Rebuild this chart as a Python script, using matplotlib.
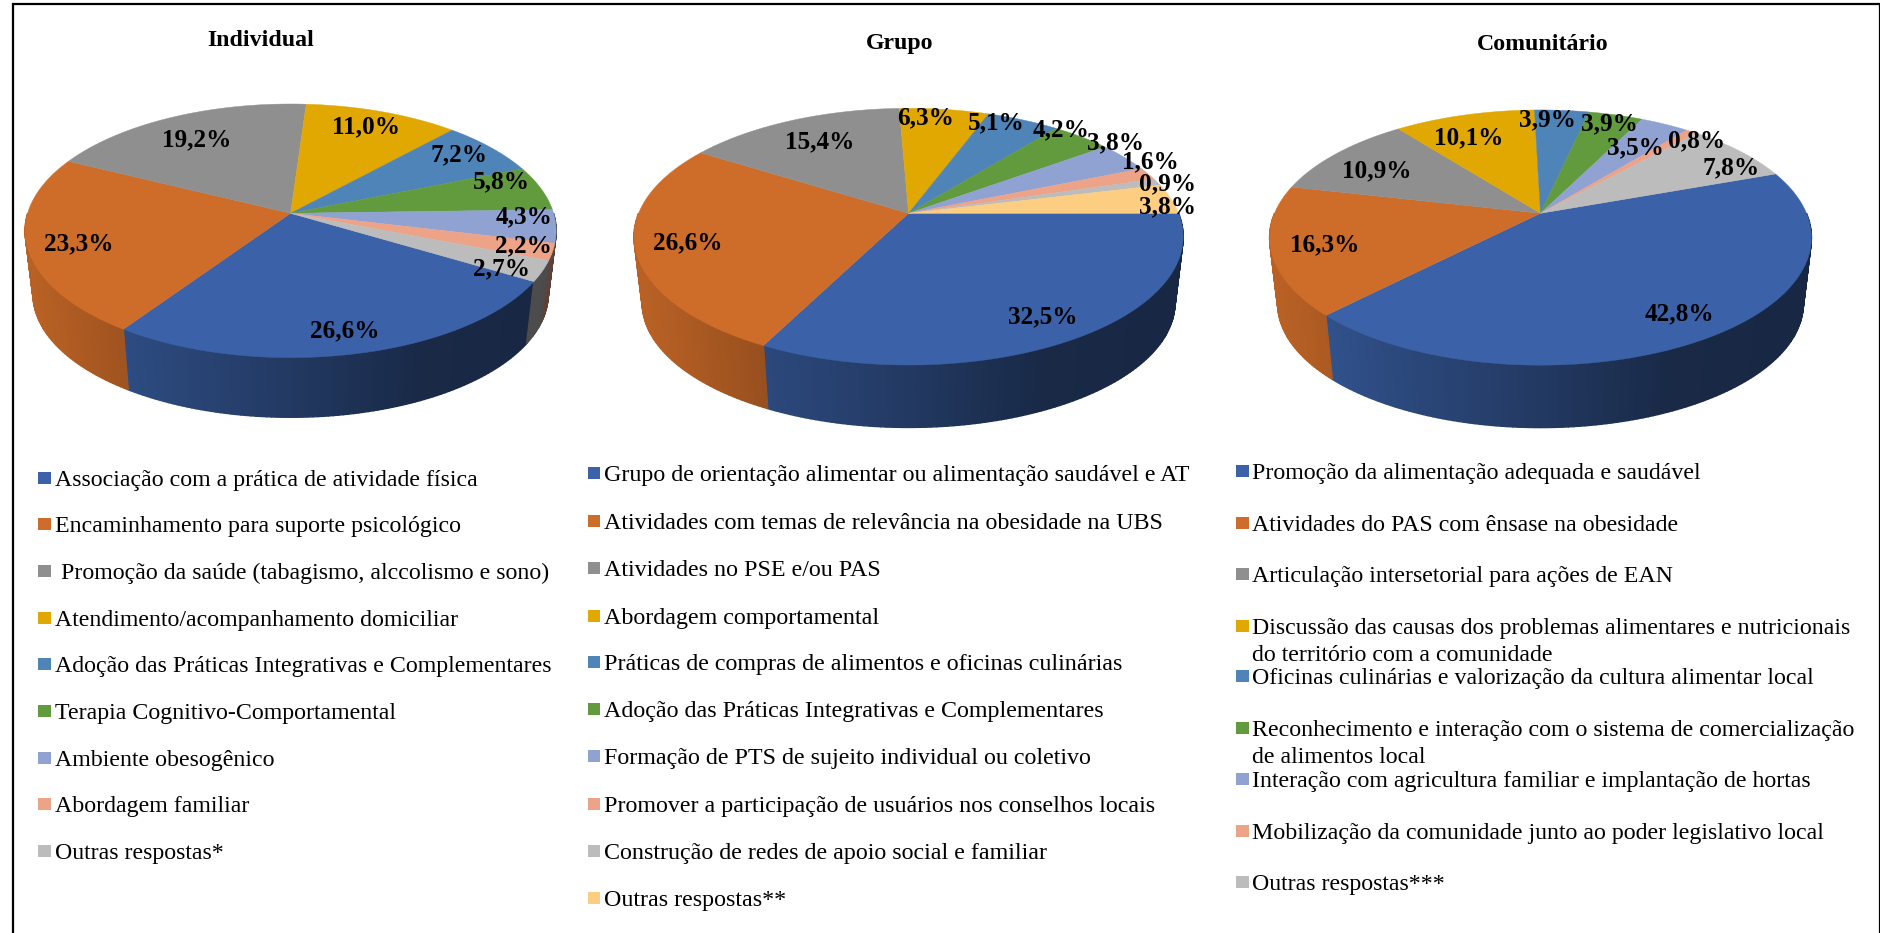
import numpy as np
import matplotlib
matplotlib.use("Agg")
import matplotlib.pyplot as plt
from matplotlib.patches import Polygon, Rectangle
from matplotlib.colors import to_rgb

plt.rcParams['font.family'] = ['Liberation Serif', 'DejaVu Serif']

# ---------- data ----------
titles = ["Individual", "Grupo", "Comunitário"]

individual_values = [26.6, 23.3, 19.2, 11.0, 7.2, 5.8, 4.3, 2.2, 2.7]
grupo_values = [32.5, 26.6, 15.4, 6.3, 5.1, 4.2, 3.8, 1.6, 0.9, 3.8]
comunitario_values = [42.8, 16.3, 10.9, 10.1, 3.9, 3.9, 3.5, 0.8, 7.8]

individual_labels = [
    "Associação com a prática de atividade física",
    "Encaminhamento para suporte psicológico",
    " Promoção da saúde (tabagismo, alccolismo e sono)",
    "Atendimento/acompanhamento domiciliar",
    "Adoção das Práticas Integrativas e Complementares",
    "Terapia Cognitivo-Comportamental",
    "Ambiente obesogênico",
    "Abordagem familiar",
    "Outras respostas*",
]
grupo_labels = [
    "Grupo de orientação alimentar ou alimentação saudável e AT",
    "Atividades com temas de relevância na obesidade na UBS",
    "Atividades no PSE e/ou PAS",
    "Abordagem comportamental",
    "Práticas de compras de alimentos e oficinas culinárias",
    "Adoção das Práticas Integrativas e Complementares",
    "Formação de PTS de sujeito individual ou coletivo",
    "Promover a participação de usuários nos conselhos locais",
    "Construção de redes de apoio social e familiar",
    "Outras respostas**",
]
comunitario_labels = [
    "Promoção da alimentação adequada e saudável",
    "Atividades do PAS com ênsase na obesidade",
    "Articulação intersetorial para ações de EAN",
    "Discussão das causas dos problemas alimentares e nutricionais\ndo território com a comunidade",
    "Oficinas culinárias e valorização da cultura alimentar local",
    "Reconhecimento e interação com o sistema de comercialização\nde alimentos local",
    "Interação com agricultura familiar e implantação de hortas",
    "Mobilização da comunidade junto ao poder legislativo local",
    "Outras respostas***",
]

# ---------- style / layout ----------
colors = ["#3B62A8", "#CE6C29", "#8F8F8F", "#E0A800", "#4F84B8",
          "#629A3E", "#8FA2D2", "#EDA387", "#BCBCBC", "#FDCD82"]

W, H = 1881, 933
fig = plt.figure(figsize=(W / 100, H / 100), dpi=100, facecolor="white")
ax = fig.add_axes([0, 0, 1, 1])
ax.set_xlim(0, W)
ax.set_ylim(H, 0)
ax.axis("off")

# frame: the picture is cropped at the bottom, so there are only three sides
ax.plot([12.5, 12.5, 1879.5, 1879.5], [H, 4, 4, H], color="black", lw=1.6,
        solid_joinstyle="miter", zorder=20, clip_on=False)

pies = [
    dict(values=individual_values, cx=290.6, cy=213.3, a=263, b=124.4, k=0.138,
         start=30.7, depth=64, title_xy=(261, 40),
         label_xy=[(345, 331), (79, 244), (197, 140), (366, 127), (459, 155),
                   (501, 182), (524, 217), (523, 246), (501, 269)]),
    dict(values=grupo_values, cx=908.6, cy=213.3, a=270, b=124.1, k=0.182,
         start=0.0, depth=67, title_xy=(900, 44),
         label_xy=[(1043, 317), (688, 243), (820, 142), (926, 118), (996, 123),
                   (1061, 130), (1115, 143), (1150, 162), (1168, 184), (1168, 207)]),
    dict(values=comunitario_values, cx=1540.5, cy=213.3, a=266, b=123.0, k=0.19,
         start=-19.9, depth=67, title_xy=(1543, 45),
         label_xy=[(1679, 314), (1325, 245), (1377, 171), (1469, 138), (1547, 120),
                   (1609, 124), (1635, 148), (1697, 141), (1731, 168)]),
]
SCALE_BOTTOM = 0.97


def rim(p, phi_deg):
    phi = np.radians(phi_deg)
    s = 1.0 / (1.0 - p["k"] * np.sin(phi))
    return p["cx"] + p["a"] * np.cos(phi) * s, p["cy"] + p["b"] * np.sin(phi) * s


def side_shade(nx):
    return np.interp(nx, [-1.0, -0.6, 0.0, 0.5, 1.0], [0.90, 0.76, 0.58, 0.42, 0.40])


for p in pies:
    vals = np.asarray(p["values"], dtype=float)
    spans = vals / vals.sum() * 360.0
    edges = p["start"] + np.concatenate([[0], np.cumsum(spans)])

    # side wall (drawn first; the top face covers what is hidden)
    for i in range(len(vals)):
        lo, hi = edges[i], edges[i + 1]
        for shift in (-360, 0, 360):
            a0 = max(lo + shift, 0)
            a1 = min(hi + shift, 180)
            if a1 <= a0:
                continue
            steps = np.arange(a0, a1, 1.0).tolist() + [a1]
            base = np.array(to_rgb(colors[i]))
            for t0, t1 in zip(steps[:-1], steps[1:]):
                x0, y0 = rim(p, t0)
                x1, y1 = rim(p, t1)
                bx0 = p["cx"] + (x0 - p["cx"]) * SCALE_BOTTOM
                by0 = p["cy"] + (y0 - p["cy"]) * SCALE_BOTTOM + p["depth"]
                bx1 = p["cx"] + (x1 - p["cx"]) * SCALE_BOTTOM
                by1 = p["cy"] + (y1 - p["cy"]) * SCALE_BOTTOM + p["depth"]
                nx = ((x0 + x1) / 2 - p["cx"]) / p["a"]
                c = tuple(base * side_shade(nx))
                ax.add_patch(Polygon([(x0, y0), (x1, y1), (bx1, by1), (bx0, by0)],
                                     closed=True, fc=c, ec=c, lw=1.0, zorder=2))

    # top face
    for i in range(len(vals)):
        ts = np.linspace(edges[i], edges[i + 1], max(3, int(spans[i] * 2)))
        pts = [(p["cx"], p["cy"])] + [rim(p, t) for t in ts]
        ax.add_patch(Polygon(pts, closed=True, fc=colors[i], ec=colors[i], lw=0.3, zorder=3))

    for v, (lx, ly) in zip(vals, p["label_xy"]):
        ax.text(lx, ly, f"{v:.1f}%".replace(".", ","), ha="center", va="center",
                fontsize=18.2, fontweight="bold", color="black", zorder=6)

for p, t in zip(pies, titles):
    ax.text(p["title_xy"][0], p["title_xy"][1], t, ha="center", va="center",
            fontsize=17.2, fontweight="bold", color="black", zorder=6)

# ---------- legends ----------
legend_cols = [
    dict(labels=individual_labels, mx=38, tx=55.4, fs=17.2,
         ys=[477.7, 524, 570.7, 617.7, 664.3, 711, 757.7, 804.3, 851]),
    dict(labels=grupo_labels, mx=587.6, tx=604, fs=17.3,
         ys=[473.3, 521, 568.3, 615.7, 661.7, 708.7, 755.7, 804, 851, 897.7]),
    dict(labels=comunitario_labels, mx=1236, tx=1252.5, fs=17.2,
         ys=[470.7, 522.7, 574, 625.7, 676, 727.7, 779, 830.7, 882.3]),
]
for col in legend_cols:
    for i, (lab, y) in enumerate(zip(col["labels"], col["ys"])):
        ax.add_patch(Rectangle((col["mx"], y - 6), 12.5, 12, fc=colors[i], ec="none", zorder=5))
        for j, line in enumerate(lab.split("\n")):
            ax.text(col["tx"], y + 8 + j * 27, line, ha="left", va="baseline",
                    fontsize=col["fs"], color="black", zorder=6)

fig.savefig("out.png", dpi=100)
